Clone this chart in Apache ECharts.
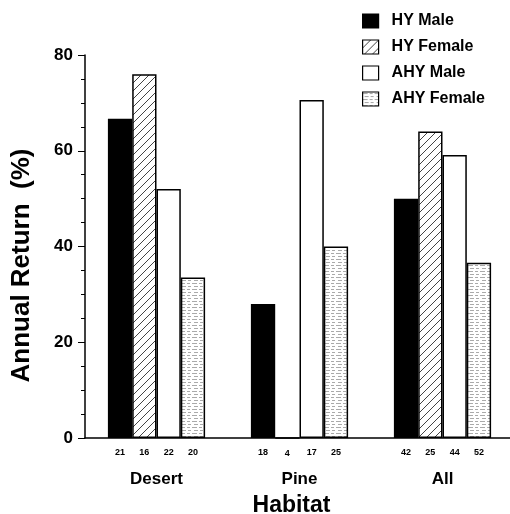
<!DOCTYPE html>
<html>
<head>
<meta charset="utf-8">
<script src="https://cdn.jsdelivr.net/npm/echarts@6/dist/echarts.min.js"></script>
<style>
  html, body { margin: 0; padding: 0; background: #fff; }
  #chart { width: 510px; height: 514px; }
</style>
</head>
<body>
<div id="chart"></div>
<script>
// habitats and sample sizes
const habitats = ['Desert', 'Pine', 'All'];
const seriesNames = ['HY Male', 'HY Female', 'AHY Male', 'AHY Female'];

// annual return (%)
const hyMale = [66.7, 28, 50];
const hyFemale = [76, 0, 64];
const ahyMale = [52, 70.6, 59.1];
const ahyFemale = [33.5, 40, 36.6];

// n under each bar
const nHyMale = [21, 18, 42];
const nHyFemale = [16, 4, 25];
const nAhyMale = [22, 17, 44];
const nAhyFemale = [20, 25, 52];

const yTicks = [0, 20, 40, 60, 80];

const FONT = "'Liberation Sans', Arial, sans-serif";

// fill patterns
function hatch() {
  const c = document.createElement('canvas');
  c.width = 8; c.height = 8;
  const g = c.getContext('2d');
  g.fillStyle = '#fff';
  g.fillRect(0, 0, 8, 8);
  g.strokeStyle = '#444';
  g.lineWidth = 1;
  g.beginPath();
  g.moveTo(-1, 9); g.lineTo(9, -1);
  g.moveTo(-1, 1); g.lineTo(1, -1);
  g.moveTo(7, 9); g.lineTo(9, 7);
  g.stroke();
  return c;
}
function dots() {
  const c = document.createElement('canvas');
  c.width = 12; c.height = 6;
  const g = c.getContext('2d');
  g.fillStyle = '#fff';
  g.fillRect(0, 0, 12, 6);
  g.fillStyle = '#aaa';
  g.fillRect(0, 1, 5, 1);
  g.fillRect(7, 1, 3, 1);
  g.fillRect(2, 4, 4, 1);
  g.fillRect(8, 4, 3, 1);
  return c;
}

const fills = ['#000', { image: hatch(), repeat: 'repeat' }, '#fff', { image: dots(), repeat: 'repeat' }];
const values = [hyMale, hyFemale, ahyMale, ahyFemale];
const counts = [nHyMale, nHyFemale, nAhyMale, nAhyFemale];

const chart = echarts.init(document.getElementById('chart'));

chart.setOption({
  animation: false,
  backgroundColor: '#fff',
  legend: {
    orient: 'vertical',
    left: 357,
    top: 8,
    icon: 'rect',
    itemWidth: 16,
    itemHeight: 14,
    itemGap: 10,
    itemStyle: { borderColor: '#000', borderWidth: 1.2 },
    textStyle: { fontFamily: FONT, fontWeight: 'bold', fontSize: 16, color: '#000', padding: [0, 0, 0, 8] },
    data: seriesNames
  },
  grid: { left: 85, top: 55, bottom: 76, right: -4, outerBoundsMode: 'none' },
  xAxis: {
    type: 'category',
    data: habitats,
    name: 'Habitat',
    nameLocation: 'middle',
    nameGap: 56,
    nameTextStyle: { fontFamily: FONT, fontWeight: 'bold', fontSize: 23, color: '#000', padding: [0, 16, 0, 0] },
    axisLine: { lineStyle: { color: '#000', width: 1.5 } },
    axisTick: { length: 4, lineStyle: { color: '#000' } },
    axisLabel: { margin: 33, fontFamily: FONT, fontWeight: 'bold', fontSize: 17, color: '#000' }
  },
  yAxis: {
    type: 'value',
    min: yTicks[0],
    max: yTicks[yTicks.length - 1],
    interval: 20,
    name: 'Annual Return  (%)',
    nameLocation: 'middle',
    nameRotate: 90,
    nameGap: 50,
    nameTextStyle: { fontFamily: FONT, fontWeight: 'bold', fontSize: 26, color: '#000', padding: [0, 38, 0, 0] },
    axisLine: { show: true, lineStyle: { color: '#000', width: 1.5 } },
    axisTick: { show: true, length: 7, lineStyle: { color: '#000' } },
    minorTick: { show: true, splitNumber: 4, length: 4, lineStyle: { color: '#000' } },
    splitLine: { show: false },
    axisLabel: { margin: 12, fontFamily: FONT, fontWeight: 'bold', fontSize: 17, color: '#000' }
  },
  series: seriesNames.map((name, i) => ({
    name: name,
    type: 'bar',
    data: values[i],
    barWidth: 24.3,
    barGap: '0%',
    itemStyle: { color: fills[i], borderColor: '#000', borderWidth: 1.5 },
    label: {
      show: true,
      position: 'bottom',
      distance: 10,
      fontFamily: FONT,
      fontWeight: 'bold',
      fontSize: 9,
      color: '#000',
      formatter: p => counts[i][p.dataIndex]
    }
  }))
});
</script>
</body>
</html>
